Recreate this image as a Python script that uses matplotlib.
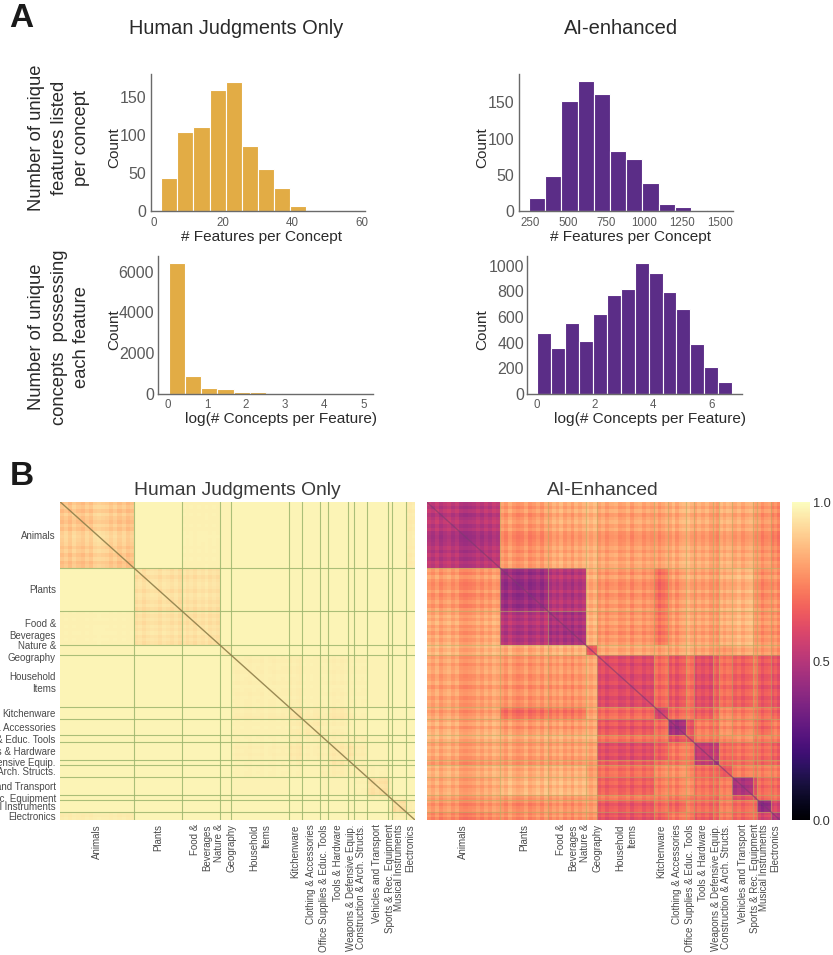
import numpy as np
import matplotlib
matplotlib.use("Agg")
import matplotlib.pyplot as plt
from matplotlib.cm import ScalarMappable
from matplotlib.colors import Normalize

plt.rcParams['font.family'] = ['Liberation Sans', 'DejaVu Sans']

# ---- data ----
human_features_counts = [43, 105, 111, 160, 171, 86, 55, 31, 6, 0, 0, 1]
human_features_start, human_features_bin = 2.16, 4.66
ai_features_counts = [18, 48, 152, 179, 161, 83, 72, 38, 10, 6, 0, 2]
ai_features_start, ai_features_bin = 245, 106.5
human_log_counts = [6410, 870, 262, 213, 80, 80, 10, 5, 3, 2, 2, 1]
human_log_start, human_log_bin = 0.03, 0.413
ai_log_counts = [472, 355, 553, 415, 620, 774, 816, 1020, 947, 795, 662, 388, 209, 94]
ai_log_start, ai_log_bin = 0.035, 0.476

categories = ["Animals", "Plants", "Food &\nBeverages", "Nature &\nGeography", "Household\nItems",
              "Kitchenware", "Clothing & Accessories", "Office Supplies & Educ. Tools",
              "Tools & Hardware", "Weapons & Defensive Equip.", "Construction & Arch. Structs.",
              "Vehicles and Transport", "Sports & Rec. Equipment", "Musical Instruments", "Electronics"]
category_sizes = [221, 144, 113, 35, 172, 41, 54, 23, 58, 19, 40, 61, 14, 41, 27]

# upper triangles of the between-category dissimilarity
human_upper = [
    [.890, .978, .972, .975, .978, .978, .978, .978, .978, .978, .978, .978, .978, .978, .962],
    [.935, .940, .978, .978, .978, .978, .978, .978, .978, .978, .978, .978, .978, .978],
    [.940, .978, .978, .978, .978, .978, .978, .978, .978, .978, .978, .978, .978],
    [.968, .978, .978, .978, .978, .978, .978, .978, .978, .978, .978, .978],
    [.968, .965, .971, .973, .968, .971, .973, .975, .978, .978, .978],
    [.950, .963, .968, .955, .965, .973, .978, .978, .978, .978],
    [.958, .968, .968, .973, .975, .978, .978, .978, .978],
    [.968, .968, .968, .968, .975, .978, .978, .978],
    [.955, .948, .965, .975, .978, .978, .978],
    [.963, .968, .975, .978, .978, .978],
    [.968, .973, .978, .978, .978],
    [.943, .968, .978, .978],
    [.968, .973, .978],
    [.938, .968],
    [.968],
]
ai_upper = [
    [.50, .78, .81, .83, .80, .79, .82, .83, .81, .79, .82, .81, .79, .77, .75],
    [.44, .50, .82, .78, .70, .79, .82, .80, .79, .82, .84, .79, .76, .77],
    [.47, .83, .78, .71, .79, .82, .80, .79, .82, .84, .79, .77, .77],
    [.63, .81, .79, .81, .83, .80, .79, .78, .81, .79, .78, .77],
    [.60, .68, .64, .70, .61, .66, .69, .66, .72, .64, .63],
    [.56, .68, .70, .65, .70, .74, .72, .72, .68, .66],
    [.45, .63, .72, .72, .76, .74, .72, .68, .72],
    [.62, .72, .72, .74, .76, .72, .72, .72],
    [.53, .54, .68, .70, .70, .68, .66],
    [.48, .68, .70, .68, .68, .68],
    [.63, .72, .72, .72, .72],
    [.47, .61, .68, .68],
    [.61, .68, .70],
    [.40, .58],
    [.50],
]
# hand-read light/dark streaks inside each category, in colour-scale units
streaks = [
    [.02, -.01, .03, -.02, .01, .03, -.01, .02, -.03, -.04, -.03, -.02, .01, -.02, .02, -.01, .03, .01],
    [.01, -.02, .03, -.01, -.03, -.02, .02, -.03, -.01, .02, -.02, .03],
    [-.02, .02, -.01, .03, -.02, .01, -.03, .02, -.01, .02],
    [.02, -.01, .02],
    [-.01, .02, -.02, .01, .02, -.02, -.01, .02, -.03, .01, .02, -.02, .01, -.01],
    [.02, -.02, .01, .03],
    [-.02, .02, -.03, .01, .02],
    [.02, -.01],
    [-.02, .02, -.01, .02, -.02],
    [.01, -.02],
    [.02, -.01, .02, .01],
    [-.01, .02, -.02, .01, .02],
    [.01, -.01],
    [.02, -.02, .01, .02],
    [-.01, .02, -.02],
]

cbar_ticks = [0.0, 0.5, 1.0]


def square(upper):
    n = len(upper)
    m = np.zeros((n, n))
    for i, row in enumerate(upper):
        m[i, i:] = row
        m[i:, i] = row
    return m


W, H = 833, 955
fig = plt.figure(figsize=(W / 100, H / 100), dpi=100, facecolor='white')


def ax_px(l, t, r, b):
    return fig.add_axes([l / W, 1 - b / H, (r - l) / W, (b - t) / H])


def ftext(x, y, s, **kw):
    return fig.text(x / W, 1 - y / H, s, **kw)


GREY = '#5a5a5a'
DARK = '#2a2a2a'
GOLD = '#E2AC45'
PURPLE = '#5B2D87'


def hist(box, counts, start, width, color, xlim, ylim, xticks, yticks, pad_y=3.0):
    ax = ax_px(*box)
    edges = start + width * np.arange(len(counts))
    ax.bar(edges, counts, width=width, align='edge', color=color, edgecolor='white', linewidth=0.8, alpha=1)
    ax.set_xlim(*xlim)
    ax.set_ylim(*ylim)
    ax.set_xticks(xticks)
    ax.set_yticks(yticks)
    ax.tick_params(axis='x', length=0, labelsize=8.3, labelcolor=GREY, pad=4)
    ax.tick_params(axis='y', length=0, labelsize=11.5, labelcolor=GREY, pad=pad_y)
    for s in ('top', 'right'):
        ax.spines[s].set_visible(False)
    for s in ('left', 'bottom'):
        ax.spines[s].set_color('#6a6a6a')
        ax.spines[s].set_linewidth(1.0)
    return ax


hist((150.5, 74, 365, 211), human_features_counts, human_features_start, human_features_bin, GOLD,
     (-0.9, 61), (0, 181), [0, 20, 40, 60], [0, 50, 100, 150])
hist((518.7, 74, 733, 211), ai_features_counts, ai_features_start, ai_features_bin, PURPLE,
     (178, 1585), (0, 189), [250, 500, 750, 1000, 1250, 1500], [0, 50, 100, 150])
hist((158.3, 256, 373, 393.7), human_log_counts, human_log_start, human_log_bin, GOLD,
     (-0.24, 5.24), (0, 6770), [0, 1, 2, 3, 4, 5], [0, 2000, 4000, 6000])
hist((526.7, 256, 741.7, 393.7), ai_log_counts, ai_log_start, ai_log_bin, PURPLE,
     (-0.33, 7.03), (0, 1077), [0, 2, 4, 6], [0, 200, 400, 600, 800, 1000], pad_y=2.0)

for x, y in [(114.5, 148), (114.5, 330), (482.5, 148), (482.5, 330)]:
    ftext(x, y, "Count", rotation=90, ha='center', va='center', fontsize=11, color=DARK)
for x, y, s in [(261.7, 236.7, "# Features per Concept"), (630, 236.7, "# Features per Concept"),
                (281, 419, "log(# Concepts per Feature)"), (650, 419, "log(# Concepts per Feature)")]:
    ftext(x, y, s, ha='center', va='center', fontsize=11.1, color=DARK)

ftext(236, 28, "Human Judgments Only", ha='center', va='center', fontsize=14.4, color=DARK)
ftext(621, 28, "AI-enhanced", ha='center', va='center', fontsize=14.5, color=DARK)
ftext(59, 137.5, "Number of unique\nfeatures listed\nper concept", rotation=90, ha='center', va='center',
      ma='center', fontsize=13.2, color=DARK, linespacing=1.45)
ftext(59, 337, "Number of unique\nconcepts  possessing\neach feature", rotation=90, ha='center', va='center',
      ma='center', fontsize=13.2, color=DARK, linespacing=1.45)
ftext(21.5, 18.5, "A", ha='center', va='center', fontsize=24, fontweight='bold', color='#1a1a1a')
ftext(21.5, 476.5, "B", ha='center', va='center', fontsize=24, fontweight='bold', color='#1a1a1a')

# ---- heatmaps ----
sizes = np.array(category_sizes)
edges = np.concatenate([[0], np.cumsum(sizes)])
centres = (edges[:-1] + edges[1:]) / 2

band_cat = np.concatenate([[i] * len(s) for i, s in enumerate(streaks)])
band_off = np.concatenate(streaks)
band_edges = np.unique(np.concatenate([np.linspace(edges[i], edges[i + 1], len(s) + 1)
                                       for i, s in enumerate(streaks)]))


def ai_matrix():
    base = square(ai_upper)[np.ix_(band_cat, band_cat)]
    return base + band_off[:, None] + band_off[None, :]


def human_matrix():
    base = square(human_upper)[np.ix_(band_cat, band_cat)]
    background = np.max(base)
    return base - (background - base) * 8 * (band_off[:, None] + band_off[None, :])


def heat(box, matrix, line_color, line_alpha, diag_color, diag_alpha, ylabels):
    ax = ax_px(*box)
    ax.pcolormesh(band_edges, band_edges, matrix, cmap='magma', vmin=0, vmax=1, shading='flat', rasterized=True)
    ax.set_xlim(edges[0], edges[-1])
    ax.set_ylim(edges[-1], edges[0])
    for e in edges[1:-1]:
        ax.axvline(e, color=line_color, lw=0.8, alpha=line_alpha)
        ax.axhline(e, color=line_color, lw=0.8, alpha=line_alpha)
    ax.plot(edges[[0, -1]], edges[[0, -1]], color=diag_color, lw=1.0, alpha=diag_alpha)
    for s in ax.spines.values():
        s.set_visible(False)
    ax.set_xticks(centres)
    ax.set_xticklabels(categories, rotation=90, ha='center', va='top', ma='right', fontsize=7,
                       color='#4a4a4a', linespacing=1.25)
    ax.tick_params(length=0, pad=3)
    if ylabels:
        ax.set_yticks(centres)
        ax.set_yticklabels(categories, fontsize=7, color='#4a4a4a', ma='right', linespacing=1.25)
    else:
        ax.set_yticks([])
    return ax


heat((60, 501.7, 415, 820), human_matrix(), '#9DB56E', 0.85, '#8f7f4a', 0.9, True)
heat((426.7, 502, 780, 820), ai_matrix(), '#B5AE62', 0.55, '#7d3a72', 0.6, False)

ftext(237.5, 490, "Human Judgments Only", ha='center', va='center', fontsize=13.9, color='#3a3a3a')
ftext(603, 490, "AI-Enhanced", ha='center', va='center', fontsize=13.9, color='#3a3a3a')

cax = ax_px(792, 502, 810, 820)
cb = fig.colorbar(ScalarMappable(Normalize(0, 1), 'magma'), cax=cax, ticks=cbar_ticks)
cb.outline.set_visible(False)
cb.ax.tick_params(length=0, labelsize=9.2, labelcolor='#333333', pad=2)

fig.savefig('out.png', dpi=100, facecolor='white')
